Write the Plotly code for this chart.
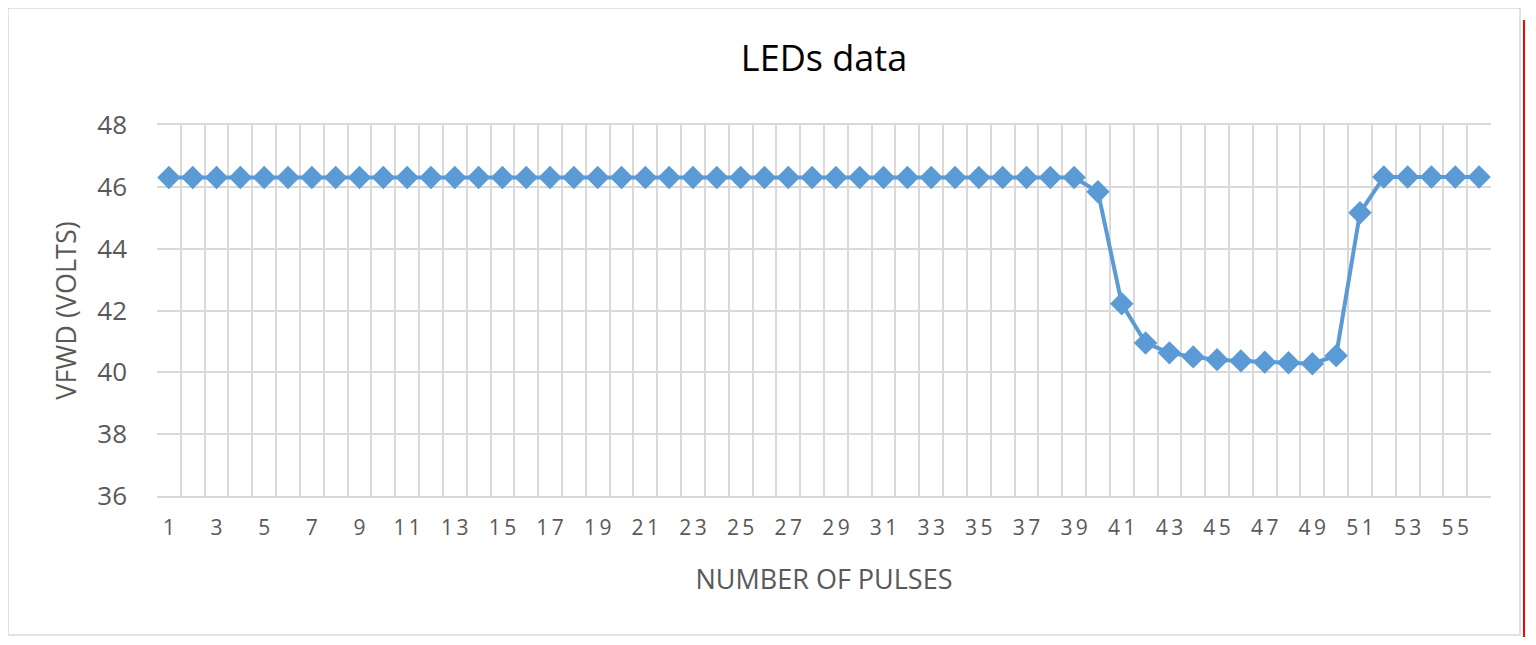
import plotly.graph_objects as go

# pulse number (categories) and forward voltage readings
pulses = list(range(1, 57))
vfwd = [46.3] * 39 + [45.84, 42.22, 40.95, 40.63, 40.5, 40.41, 40.37, 40.33, 40.31,
                      40.28, 40.54, 45.16, 46.32, 46.32, 46.32, 46.32, 46.32]
x_ticks = list(range(1, 57, 2))
y_ticks = [36, 38, 40, 42, 44, 46, 48]

# page has an 8px body margin, so the figure is shrunk to fit the window
W, H = 1528, 629
L, R, T, B = 149, 45, 117, 141
pw, ph = W - L - R, H - T - B


def px(x):
    return (x - L) / pw


def py(y):
    return (H - B - y) / ph


trace = go.Scatter(
    x=pulses, y=vfwd, mode='lines+markers',
    line=dict(color='#5B9BD5', width=4),
    marker=dict(symbol='diamond', size=18, color='#5B9BD5'),
    showlegend=False,
)

grey = '#595959'
font = 'Open Sans, Liberation Sans, sans-serif'
layout = go.Layout(
    width=W, height=H,
    margin=dict(l=L, r=R, t=T, b=B),
    paper_bgcolor='white', plot_bgcolor='white',
    font=dict(family=font, color=grey),
    title=dict(text='LEDs data', x=0.5, xref='paper', y=1 - 50 / H, yanchor='middle',
               font=dict(size=36, color='black')),
    xaxis=dict(
        range=[0.5, 56.5], tickvals=x_ticks,
        ticktext=['\u2009'.join(str(v)) for v in x_ticks],
        showgrid=False, zeroline=False, showline=True, linecolor='#D9D9D9', linewidth=2,
        mirror=True, ticks='', tickfont=dict(size=21, color=grey), ticklabelstandoff=12,
        minor=dict(tickvals=[v + 0.5 for v in range(0, 57)], showgrid=True,
                   gridcolor='#D9D9D9', gridwidth=2),
        title=dict(text='NUMBER OF PULSES', font=dict(size=27, color=grey), standoff=30),
    ),
    yaxis=dict(
        range=[36, 48], tickvals=y_ticks, showgrid=True, gridcolor='#D9D9D9', gridwidth=2,
        zeroline=False, ticks='', tickfont=dict(size=26, color=grey), ticklabelstandoff=29,
        title=dict(text='VFWD (VOLTS)', font=dict(size=27, color=grey), standoff=12),
    ),
    shapes=[
        dict(type='rect', xref='paper', yref='paper', x0=px(0), x1=px(1512), y0=py(627),
             y1=py(0), line=dict(color='#D9D9D9', width=1.5)),
        dict(type='line', xref='paper', yref='paper', x0=px(1516), x1=px(1516), y0=py(629),
             y1=py(12), line=dict(color='red', width=2)),
    ],
)

fig = go.Figure(data=[trace], layout=layout)
fig.write_html("out.html")
